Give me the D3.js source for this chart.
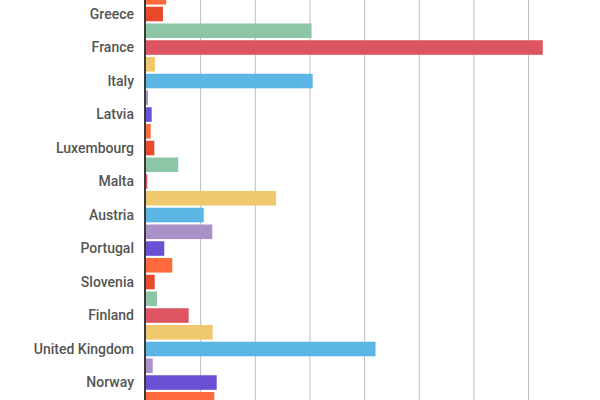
<!DOCTYPE html>
<html>
<head>
<meta charset="utf-8">
<script src="https://cdn.jsdelivr.net/npm/d3@7"></script>
<style>
    body { margin: 0; background: #fff; }
    .label text { font-family: Roboto, sans-serif; font-size: 14px; font-weight: 500; fill: #555; }
</style>
</head>
<body>
<svg id="chart" width="600" height="400"></svg>
<script>
// countries in chart order (only every other one gets a label)
const countries = ["Ireland", "Greece", "Spain", "France", "Croatia", "Italy", "Cyprus", "Latvia",
    "Lithuania", "Luxembourg", "Hungary", "Malta", "Netherlands", "Austria", "Poland", "Portugal",
    "Romania", "Slovenia", "Slovakia", "Finland", "Sweden", "United Kingdom", "Iceland", "Norway",
    "Switzerland"];
const values = [3.7, 3.1, 30.3, 72.6, 1.65, 30.5, 0.37, 1.04,
    0.86, 1.52, 5.9, 0.24, 23.8, 10.56, 12.13, 3.35,
    4.81, 1.59, 2.01, 7.81, 12.2, 42.0, 1.23, 12.94,
    12.5];
const shownLabels = countries.filter((d, i) => i % 2 == 1);
const gridTicks = [10, 20, 30, 40, 50, 60, 70];
const palette = ["#ff6a3c", "#e8492a", "#8dc5a7", "#dc5560", "#f0c96e", "#5bb5e5", "#aa92c9", "#6b50d6"];

const svg = d3.select('#chart');
const data = countries.map((c, i) => ({ name: c, value: values[i] }));

const x_scale = d3.scaleLinear()
    .domain([0, 80])
    .range([146, 583.2]);

const step = 16.75;
const y_scale = d3.scaleBand()
    .domain(countries)
    .range([-11.1, -11.1 + step * countries.length])
    .paddingInner(0.13)
    .paddingOuter(0.065);

// grid lines
svg.append("g")
    .selectAll("line")
    .data(gridTicks)
    .enter().append("line")
    .attr("x1", d => x_scale(d))
    .attr("x2", d => x_scale(d))
    .attr("y1", 0)
    .attr("y2", 400)
    .attr("stroke", "#bdbdbd")
    .attr("stroke-width", 1);

// bars
svg.append("g")
    .selectAll("rect")
    .data(data)
    .enter().append("rect")
    .attr("x", x_scale(0))
    .attr("y", d => y_scale(d.name))
    .attr("width", d => x_scale(d.value) - x_scale(0))
    .attr("height", y_scale.bandwidth())
    .attr("fill", (d, i) => palette[i % palette.length]);

// category axis
const y_axis = d3.axisLeft(y_scale)
    .tickValues(shownLabels)
    .tickSize(0)
    .tickPadding(11);
const axis_g = svg.append("g")
    .classed("label", true)
    .attr("transform", "translate(145,0)")
    .call(y_axis);
axis_g.select(".domain").remove();

svg.append("line")
    .attr("x1", 145)
    .attr("x2", 145)
    .attr("y1", 0)
    .attr("y2", 400)
    .attr("stroke", "#3a3a3a")
    .attr("stroke-width", 2);
</script>
</body>
</html>
